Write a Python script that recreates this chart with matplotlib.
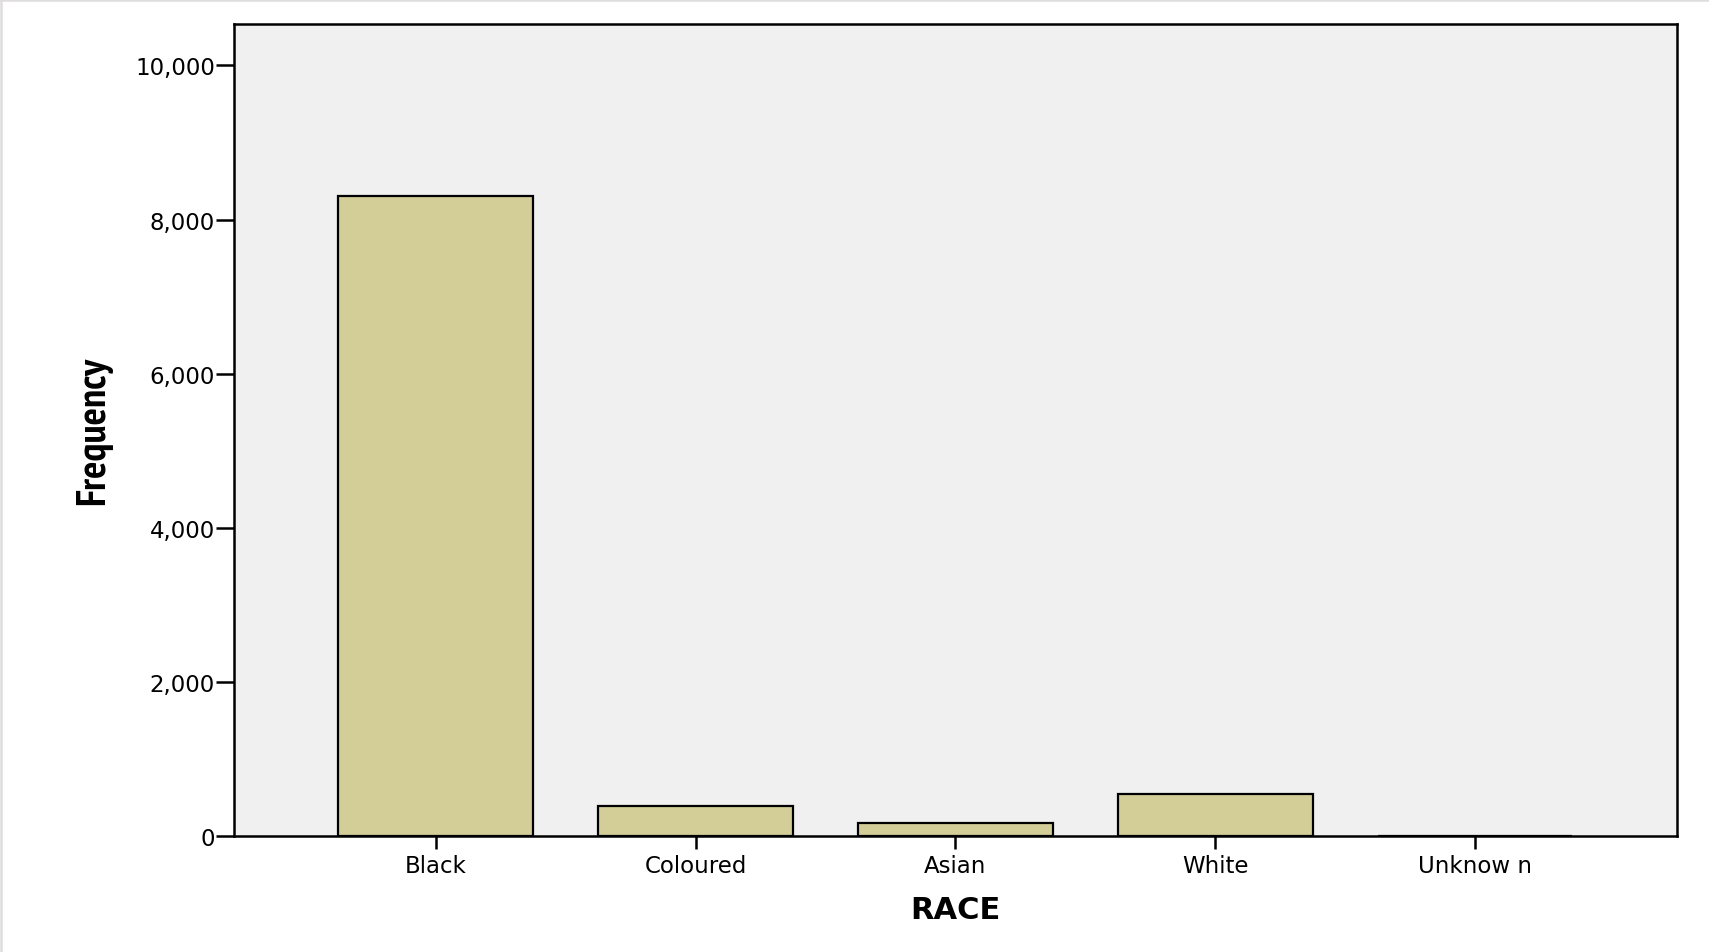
import matplotlib
matplotlib.use("Agg")
import matplotlib.pyplot as plt
from matplotlib import font_manager
from matplotlib.font_manager import FontProperties
from matplotlib.textpath import TextPath
from matplotlib.lines import Line2D
from matplotlib.ticker import FuncFormatter

categories = ["Black", "Coloured", "Asian", "White", "Unknow n"]
frequency = [8300, 395, 165, 550, 0]
y_ticks = [0, 2000, 4000, 6000, 8000, 10000]

W, H = 1709, 953
plt.rcParams["font.family"] = ["DejaVu Sans"]

WEIGHTS = {"bold": 700, "semibold": 600, "demibold": 600, "heavy": 800, "extra bold": 800,
           "black": 900, "normal": 400, "regular": 400, "medium": 500}


def pick_label_font(text, target_ratio):
    """Bold sans face whose length/em for `text` is closest to target."""
    best = None
    seen = set()
    for f in font_manager.fontManager.ttflist:
        nm = f.name.lower()
        fn = f.fname.lower()
        if f.fname in seen or "mono" in nm or ("serif" in nm and "sans" not in nm):
            continue
        if "cjk" in nm or "italic" in fn or "oblique" in fn or f.style != "normal":
            continue
        w = f.weight
        wnum = w if isinstance(w, int) else WEIGHTS.get(str(w).lower(), 400)
        if wnum < 600 or wnum > 800:
            continue
        seen.add(f.fname)
        try:
            tp = TextPath((0, 0), text, prop=FontProperties(fname=f.fname, size=100))
            ratio = tp.get_extents().width / 100.0
        except Exception:
            continue
        score = abs(ratio - target_ratio)
        if best is None or score < best[0]:
            best = (score, f.fname)
    return best[1] if best else None


fig = plt.figure(figsize=(W / 100, H / 100), dpi=100)
fig.patch.set_facecolor("white")
border = "#dedcdc"
fig.add_artist(Line2D([0, 1], [1 - 1 / H, 1 - 1 / H], transform=fig.transFigure, color=border, lw=1.8))
fig.add_artist(Line2D([1 / W, 1 / W], [0, 1], transform=fig.transFigure, color=border, lw=1.8))

left, right, top, bottom = 234.3, 1676.5, 25, 837
ax = fig.add_axes([left / W, 1 - bottom / H, (right - left) / W, (bottom - top) / H])
ax.set_facecolor("#f0f0f0")

x = list(range(len(categories)))
ax.bar(x, frequency, width=0.75, color="#d3ce97", edgecolor="black", linewidth=1.6, zorder=2)

ax.set_xlim(-0.776, len(categories) - 1 + 0.776)
ax.set_ylim(0, 10537)
ax.set_yticks(y_ticks)
ax.yaxis.set_major_formatter(FuncFormatter(lambda v, p: f"{int(v):,}"))
ax.set_xticks(x)
ax.set_xticklabels(categories)

for s in ax.spines.values():
    s.set_linewidth(1.8)
    s.set_color("black")

ax.tick_params(axis="y", length=13, width=1.8, pad=1.0, labelsize=16.5, direction="out")
ax.tick_params(axis="x", length=9, width=1.8, pad=4.0, labelsize=16.5, direction="out")

ax.set_xlabel("RACE", fontsize=22, fontweight="bold")
ax.xaxis.set_label_coords(0.5, (bottom - 896.5) / (bottom - top))

fname = pick_label_font("Frequency", 3.6)
if fname is not None:
    fp = FontProperties(fname=fname, size=28)
else:
    fp = FontProperties(family="DejaVu Sans", weight="bold", size=21)
ylab = ax.set_ylabel("Frequency", fontproperties=fp)

# scale the label so that its length matches the reference (about 148 px)
renderer = fig.canvas.get_renderer()
for _ in range(3):
    bb = ylab.get_window_extent(renderer)
    ylab.set_fontsize(ylab.get_fontsize() * 148.0 / bb.height)
ax.yaxis.set_label_coords((112 - left) / (right - left), 0.5)

fig.savefig("out.png", dpi=100)
